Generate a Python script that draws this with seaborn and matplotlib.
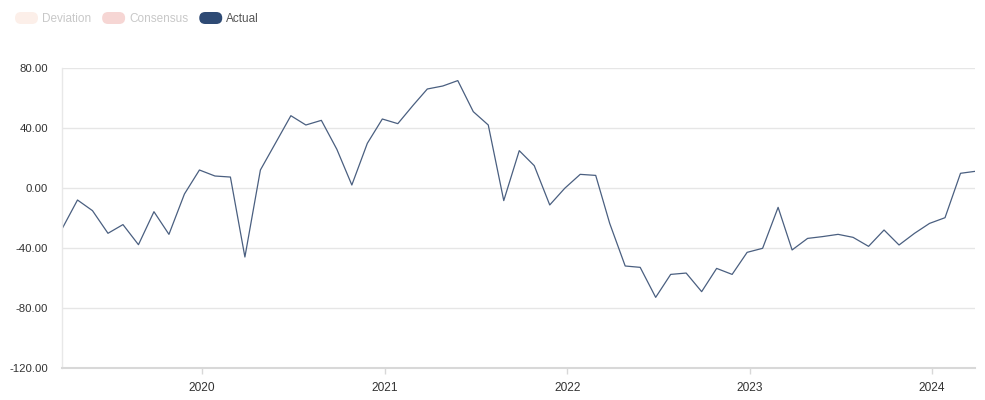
import pandas as pd
import matplotlib.pyplot as plt
import matplotlib.dates as mdates
from matplotlib.patches import FancyBboxPatch
from matplotlib.transforms import IdentityTransform
import seaborn as sns

# Monthly readings (plotted late in each month), Mar 2019 - Mar 2024
months = pd.date_range('2019-03-01', '2024-03-01', freq='MS')
actual = [-27.3, -8.0, -15.1, -30.2, -24.4, -37.8, -15.8, -30.9, -4.0, 12.0,
          8.0, 7.3, -46.0, 12.0, 29.8, 48.2, 42.0, 45.1, 25.8, 2.0, 29.8, 46.0,
          42.9, 55.3, 66.0, 68.0, 71.6, 50.9, 42.0, -8.4, 24.9, 14.9, -11.3, -0.2,
          9.1, 8.4, -23.6, -52.0, -52.9, -72.9, -57.6, -56.7, -69.1, -53.6, -57.6, -42.9,
          -40.2, -12.9, -41.3, -33.6, -32.4, -30.9, -32.9, -38.9, -28.0, -38.0, -30.2, -23.6,
          -19.8, 9.8, 11.1]
y_ticks = [-120, -80, -40, 0, 40, 80]
legend_names = ['Deviation', 'Consensus', 'Actual']
legend_fill = ['#fcefe9', '#f6d6d4', '#2e4a74']
legend_text = ['#c8c8c8', '#c8c8c8', '#555555']

df = pd.DataFrame({'date': months + pd.Timedelta(days=26), 'actual': actual})

sns.set_theme(style='white')
plt.rcParams['font.family'] = ['Liberation Sans', 'DejaVu Sans']

W, H = 985, 400
fig = plt.figure(figsize=(W / 100, H / 100), dpi=100)
ax = fig.add_axes([62 / W, 1 - 368 / H, (975 - 62) / W, 300 / H])

sns.lineplot(data=df, x='date', y='actual', ax=ax, color='#4a5f80', linewidth=0.9)

ax.set_xlim(df['date'].iloc[0], df['date'].iloc[-1])
ax.set_ylim(-120, 80)
ax.set_yticks(y_ticks)
ax.set_yticklabels([f'{v:.2f}' for v in y_ticks])
ax.yaxis.grid(True, color='#e6e6e6', linewidth=1)
ax.xaxis.grid(False)
ax.xaxis.set_major_locator(mdates.YearLocator())
ax.xaxis.set_major_formatter(mdates.DateFormatter('%Y'))
ax.set_xlabel('')
ax.set_ylabel('')

ax.tick_params(axis='y', length=0, pad=10, labelsize=8.2, labelcolor='#333333')
ax.tick_params(axis='x', length=4, width=1, color='#d8d8d8', pad=6,
               labelsize=8.6, labelcolor='#333333', bottom=True)

for side in ['top', 'right']:
    ax.spines[side].set_visible(False)
ax.spines['left'].set_color('#e8e8e8')
ax.spines['left'].set_linewidth(1)
ax.spines['bottom'].set_color('#d8d8d8')
ax.spines['bottom'].set_linewidth(1.5)

# Legend with pill-shaped keys, laid out in pixels
x0 = 15
for name, fill, tcol in zip(legend_names, legend_fill, legend_text):
    pill = FancyBboxPatch((x0, H - 24), 23, 12,
                          boxstyle='round,pad=0,rounding_size=6',
                          transform=IdentityTransform(), facecolor=fill,
                          edgecolor='none')
    fig.patches.append(pill)
    t = fig.text((x0 + 27) / W, 1 - 18.5 / H, name, fontsize=8.5,
                 color=tcol, va='center', ha='left')
    fig.canvas.draw()
    w = t.get_window_extent().width
    x0 = x0 + 27 + w + 11

fig.savefig('out.png', dpi=100)
